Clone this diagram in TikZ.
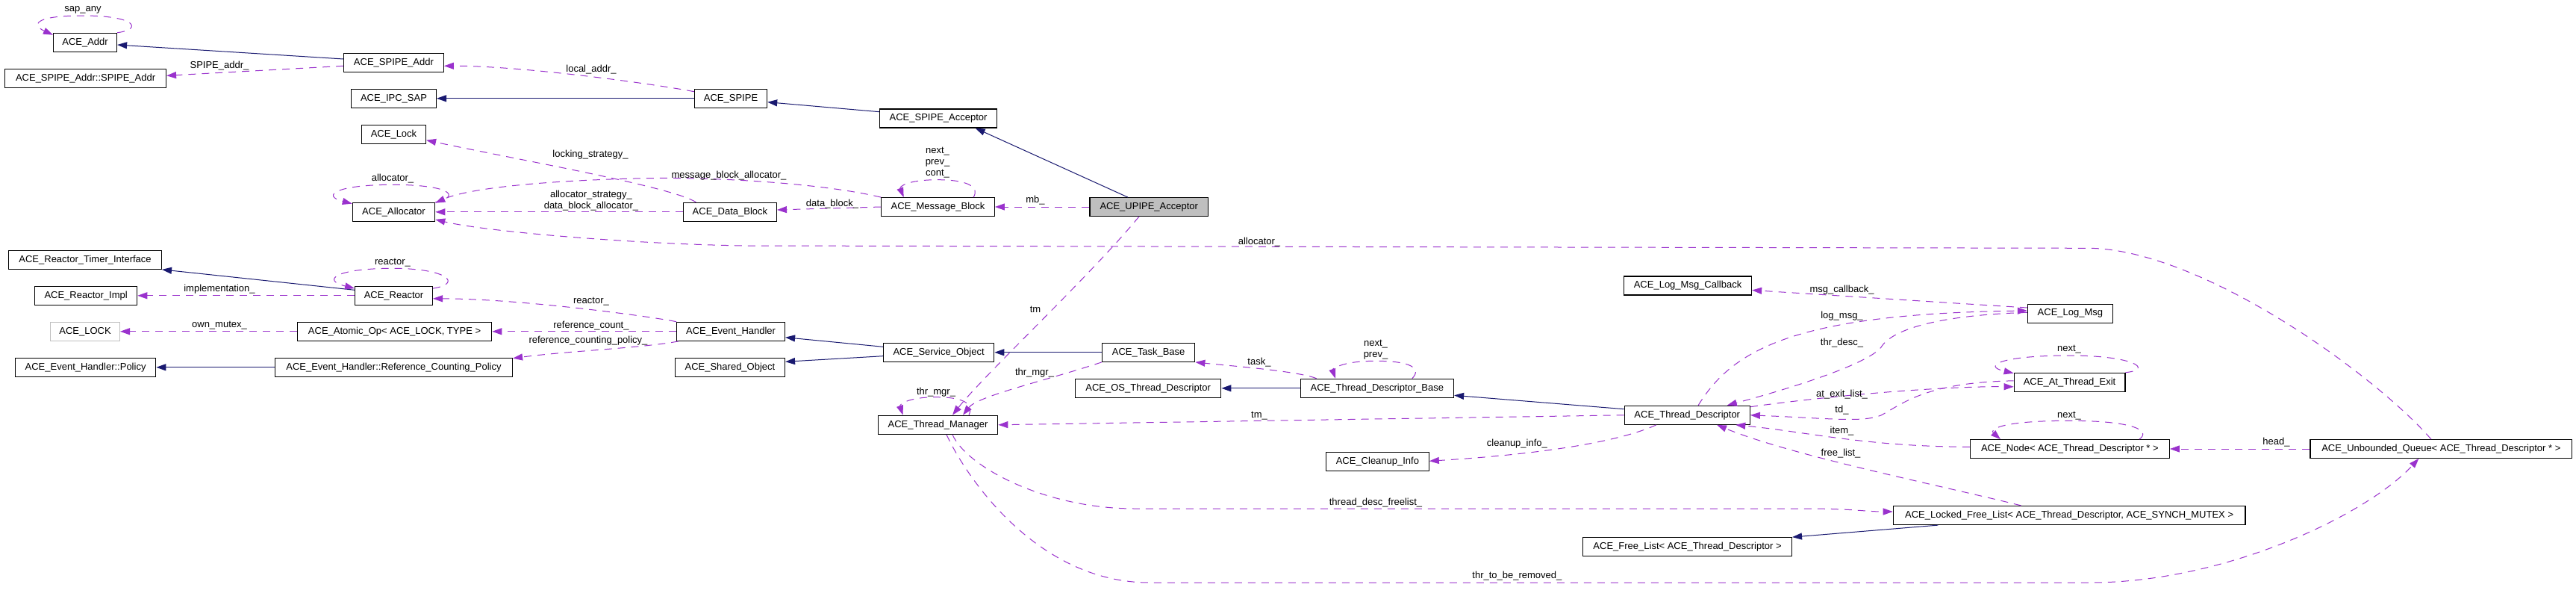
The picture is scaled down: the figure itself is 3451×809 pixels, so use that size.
\documentclass[tikz,border=0pt]{standalone}
\usepackage{fontspec}
\setmainfont{Liberation Sans}
\usetikzlibrary{arrows.meta,calc}
\definecolor{inhblue}{HTML}{191970}
\definecolor{usepurple}{HTML}{9A32CD}
\definecolor{boxgray}{HTML}{BFBFBF}
\tikzset{
 cls/.style={draw=black, line width=0.6pt, rectangle, inner sep=0pt, font=\fontsize{6.5}{7.5}\selectfont, fill=white},
 inh/.style={draw=inhblue, line width=0.5pt, -{Triangle[length=6.5pt,width=4.5pt]}},
 use/.style={draw=usepurple, line width=0.5pt, dash pattern=on 5pt off 4pt, -{Triangle[length=6.5pt,width=4.5pt]}},
 lbl/.style={font=\fontsize{6.5}{7.5}\selectfont, inner sep=0pt, align=center},
}
\newcommand\classbox[7][]{\node[cls,#1,minimum width={(#5-#3)*0.5pt},minimum height={(#6-#4)*0.5pt}] (#2) at ({(#3+#5)/2},{(#4+#6)/2}) {#7};}
\begin{document}
\begin{tikzpicture}[x=0.5pt,y=-0.5pt]
\fill[white] (0,0) rectangle (3451,809);
\useasboundingbox (0,0) rectangle (3451,809);
% nodes
\classbox{addr}{71.6}{44.3}{156.5}{69.3}{ACE\_Addr}
\classbox{spipeaddrin}{6.7}{92.7}{222.5}{117.3}{ACE\_SPIPE\_Addr::SPIPE\_Addr}
\classbox{spipeaddr}{460.6}{71.3}{594.3}{96.3}{ACE\_SPIPE\_Addr}
\classbox{ipcsap}{470.6}{119.3}{584.4}{144.3}{ACE\_IPC\_SAP}
\classbox{lock}{484.5}{167.3}{570.5}{192.3}{ACE\_Lock}
\classbox{alloc}{472.3}{271.3}{582.7}{296.3}{ACE\_Allocator}
\classbox{rti}{11.7}{335.3}{216.4}{360.3}{ACE\_Reactor\_Timer\_Interface}
\classbox{rimpl}{46.6}{383.3}{183.7}{408.3}{ACE\_Reactor\_Impl}
\classbox{reactor}{475.6}{383.3}{579.4}{408.3}{ACE\_Reactor}
\classbox[draw=boxgray]{LOCK}{67.7}{431.3}{160.4}{456.3}{ACE\_LOCK}
\classbox{atomic}{398.4}{431.3}{658.7}{456.3}{ACE\_Atomic\_Op< ACE\_LOCK, TYPE >}
\classbox{policy}{20.5}{479.3}{208.7}{504.3}{ACE\_Event\_Handler::Policy}
\classbox{rcp}{368.5}{479.3}{686.5}{504.3}{ACE\_Event\_Handler::Reference\_Counting\_Policy}
\classbox{spipe}{930.5}{119.3}{1027.6}{144.3}{ACE\_SPIPE}
\classbox{spipeacc}{1178.5}{146}{1335.6}{171}{ACE\_SPIPE\_Acceptor}
\classbox{datablock}{915.5}{271.3}{1040.4}{296.3}{ACE\_Data\_Block}
\classbox{msgblock}{1180.8}{264.7}{1332.3}{289.3}{ACE\_Message\_Block}
\classbox[fill=boxgray]{upipe}{1459.9}{264.7}{1618.6}{289.3}{ACE\_UPIPE\_Acceptor}
\classbox{evh}{906.6}{431.3}{1051.5}{456.3}{ACE\_Event\_Handler}
\classbox{sobj}{1183.5}{459.3}{1331.7}{484.3}{ACE\_Service\_Object}
\classbox{shobj}{904.4}{479.3}{1051.5}{504.3}{ACE\_Shared\_Object}
\classbox{task}{1476.5}{459.3}{1600.8}{484.3}{ACE\_Task\_Base}
\classbox{ostd}{1440.5}{507.3}{1635.8}{532.3}{ACE\_OS\_Thread\_Descriptor}
\classbox{tm}{1176.3}{556.3}{1336.7}{581.3}{ACE\_Thread\_Manager}
\classbox{lmc}{2175.6}{370}{2346.5}{395}{ACE\_Log\_Msg\_Callback}
\classbox{tdb}{1742.2}{507.3}{1947.5}{532.3}{ACE\_Thread\_Descriptor\_Base}
\classbox{td}{2176.2}{543.3}{2344.3}{568.3}{ACE\_Thread\_Descriptor}
\classbox{cleanup}{1776.6}{605.5}{1914.2}{630.5}{ACE\_Cleanup\_Info}
\classbox{freelist}{2120.7}{719.7}{2400.4}{744.3}{ACE\_Free\_List< ACE\_Thread\_Descriptor >}
\classbox{lfl}{2536.3}{677.5}{3007.9}{702.5}{ACE\_Locked\_Free\_List< ACE\_Thread\_Descriptor, ACE\_SYNCH\_MUTEX >}
\classbox{logmsg}{2716.5}{407.3}{2830.3}{432.3}{ACE\_Log\_Msg}
\classbox{ate}{2698.2}{499.3}{2846.9}{524.3}{ACE\_At\_Thread\_Exit}
\classbox{node}{2639.4}{588.7}{2906.3}{613.3}{ACE\_Node< ACE\_Thread\_Descriptor * >}
\classbox{uq}{3095}{588.7}{3445.7}{613.3}{ACE\_Unbounded\_Queue< ACE\_Thread\_Descriptor * >}
% inheritance
\draw[inh] ($(spipeaddr.west)+(0,-4.8)$) -- ($(addr.east)+(0,3.2)$);
\draw[inh] (spipe.west) -- (ipcsap.east);
\draw[inh] ($(spipeacc.west)+(0,-8.8)$) -- ($(spipe.east)+(0,4.9)$);
\draw[inh] ($(upipe.north)+(-28.3,0)$) -- ($(spipeacc.south)+(49.6,0)$);
\draw[inh] ($(reactor.west)+(0,-7.5)$) -- (rti.south east);
\draw[inh] (rcp.west) -- (policy.east);
\draw[inh] ($(sobj.west)+(0,-7.5)$) -- ($(evh.east)+(0,7.9)$);
\draw[inh] ($(sobj.west)+(0,4.9)$) -- ($(shobj.east)+(0,-7.5)$);
\draw[inh] (task.west) -- (sobj.east);
\draw[inh] (tdb.west) -- (ostd.east);
\draw[inh] ($(td.west)+(0,-8.1)$) -- ($(tdb.east)+(0,9.5)$);
\draw[inh] ($(lfl.south west)+(60.7,0)$) -- (freelist.north east);
% usage
\draw[use] (addr.north east) .. controls (190,40) and (185,21) .. (111,21) .. controls (40,21) and (45,35) .. ($(addr.north west)+(0,3)$);
\draw[use] ($(spipeaddr.west)+(0,4.5)$) -- ($(spipeaddrin.east)+(0,-3.7)$);
\draw[use] ($(spipe.north west)+(0,4)$) .. controls (880,113) and (700,88) .. ($(spipeaddr.east)+(0,4.5)$);
\draw[use] ($(datablock.north west)+(17.5,0)$) .. controls (900,250) and (700,215) .. ($(lock.east)+(0,7.9)$);
\draw[use] (datablock.west) -- (alloc.east);
\draw[use] (msgblock.north west) .. controls (1100,245) and (950,236) .. (850,239) .. controls (700,243) and (620,255) .. ($(alloc.north east)+(0,1)$);
\draw[use] (alloc.north east) .. controls (620,262) and (600,247.3) .. (526,247.3) .. controls (450,247.3) and (430,262) .. ($(alloc.north west)+(0,2)$);
\draw[use] (msgblock.west) -- ($(datablock.east)+(0,-2.8)$);
\draw[use] ($(msgblock.north)+(47.5,0)$) .. controls (1312,252) and (1300,240.7) .. (1256,240.7) .. controls (1215,240.7) and (1205,250) .. ($(msgblock.north)+(-45.9,0)$);
\draw[use] (upipe.west) -- (msgblock.east);
\draw[use] ($(upipe.south)+(-13.3,0)$) .. controls (1460,370) and (1320,500) .. ($(tm.north)+(19.5,0)$);
\draw[use] (task.south west) .. controls (1400,510) and (1310,530) .. ($(tm.north)+(33.5,0)$);
\draw[use] ($(tm.north)+(41.5,0)$) .. controls (1305,540) and (1290,531.7) .. (1254,531.7) .. controls (1215,531.7) and (1205,542) .. ($(tm.north)+(-46.9,0)$);
\draw[use] (td.west) -- (tm.east);
\draw[use] ($(tm.south)+(19.5,0)$) .. controls (1295,625) and (1400,681) .. (1520,681) -- (2420,681) .. controls (2480,681) and (2500,685) .. ($(lfl.west)+(0,-5)$);
\draw[use] ($(tm.south)+(11.5,0)$) .. controls (1295,640) and (1390,780) .. (1540,780) -- (2800,780) .. controls (2980,780) and (3170,690) .. ($(uq.south)+(-30,0)$);
\draw[use] ($(reactor.north east)+(0,3.4)$) .. controls (620,380) and (600,359.3) .. (526,359.3) .. controls (450,359.3) and (430,375) .. ($(reactor.north west)+(0,3.4)$);
\draw[use] (reactor.west) -- (rimpl.east);
\draw[use] (evh.north west) .. controls (880,425) and (700,400) .. ($(reactor.east)+(0,4)$);
\draw[use] (evh.west) -- (atomic.east);
\draw[use] ($(evh.south west)+(3,0)$) .. controls (860,466) and (760,470) .. ($(rcp.north east)+(0,1)$);
\draw[use] (atomic.west) -- (LOCK.east);
\draw[use] ($(tdb.north west)+(22,0)$) .. controls (1740,497) and (1650,490) .. (task.south east);
\draw[use] ($(tdb.north)+(47,0)$) .. controls (1905,493) and (1890,483.3) .. (1843,483.3) .. controls (1795,483.3) and (1785,495) .. ($(tdb.north)+(-55.9,0)$);
\draw[use] ($(logmsg.west)+(0,-7.8)$) .. controls (2650,408) and (2450,395) .. ($(lmc.east)+(0,6)$);
\draw[use] ($(td.north)+(14.8,0)$) .. controls (2320,470) and (2400,420) .. ($(logmsg.west)+(0,-3.8)$);
\draw[use] ($(logmsg.west)+(0,-1.5)$) .. controls (2600,422) and (2535,440) .. (2520,465) .. controls (2500,490) and (2380,525) .. ($(td.north)+(53.5,0)$);
\draw[use] ($(td.north east)+(0,2)$) .. controls (2450,530) and (2600,517) .. ($(ate.west)+(0,6)$);
\draw[use] ($(ate.west)+(0,-2)$) .. controls (2580,512) and (2550,540) .. (2520,556) .. controls (2495,566) and (2450,560) .. (td.east);
\draw[use] (ate.north east) .. controls (2885,495) and (2860,476) .. (2772,476) .. controls (2680,476) and (2655,490) .. ($(ate.north west)+(0,1)$);
\draw[use] ($(node.west)+(0,-2.7)$) .. controls (2500,598) and (2420,578) .. ($(td.south)+(65,0)$);
\draw[use] ($(lfl.north)+(-64.5,0)$) .. controls (2600,650) and (2400,610) .. ($(td.south)+(39.8,0)$);
\draw[use] ($(node.north)+(93,0)$) .. controls (2882,577) and (2860,563.3) .. (2772,563.3) .. controls (2680,563.3) and (2665,575) .. ($(node.north)+(-92.9,0)$);
\draw[use] (uq.west) -- (node.east);
\draw[use] ($(td.south west)+(43.2,0)$) .. controls (2150,600) and (2000,612) .. ($(cleanup.east)+(0,-0.7)$);
\draw[use] ($(uq.north)+(-13.4,0)$) .. controls (3180,500) and (2950,335) .. (2800,332.3) -- (1000,329) .. controls (850,327) and (650,310) .. ($(alloc.south east)+(0,-3)$);
% labels
\node[lbl] (l1) at (111,13.3) {sap\_any};
\node[lbl] (l2) at (294,88) {SPIPE\_addr\_};
\node[lbl] (l3) at (792,92.7) {local\_addr\_};
\node[lbl] (l4) at (791,206.7) {locking\_strategy\_};
\node[lbl] (l5) at (526,239.3) {allocator\_};
\node[lbl] (l6) at (792,268.3) {allocator\_strategy\_\\data\_block\_allocator\_};
\node[lbl] (l7) at (976.5,235) {message\_block\_allocator\_};
\node[lbl] (l8) at (1256,218) {next\_\\prev\_\\cont\_};
\node[lbl] (l9) at (1115,272.7) {data\_block\_};
\node[lbl] (l10) at (1387,268.3) {mb\_};
\node[lbl] (l11) at (526,351.7) {reactor\_};
\node[lbl] (l12) at (294,387.3) {implementation\_};
\node[lbl] (l13) at (792,404) {reactor\_};
\node[lbl] (l14) at (294,435.7) {own\_mutex\_};
\node[lbl] (l15) at (792,435.7) {reference\_count\_};
\node[lbl] (l16) at (788,455.7) {reference\_counting\_policy\_};
\node[lbl] (l17) at (1687,324.3) {allocator\_};
\node[lbl] (l18) at (1387,414.3) {tm};
\node[lbl] (l19) at (1386,499.3) {thr\_mgr\_};
\node[lbl] (l20) at (1254,524.7) {thr\_mgr\_};
\node[lbl] (l21) at (1687,485) {task\_};
\node[lbl] (l22) at (1687,556.7) {tm\_};
\node[lbl] (l23) at (1843,468.5) {next\_\\prev\_};
\node[lbl] (l24) at (2467.5,387.7) {msg\_callback\_};
\node[lbl] (l25) at (2467.5,423.3) {log\_msg\_};
\node[lbl] (l26) at (2467.5,458.7) {thr\_desc\_};
\node[lbl] (l27) at (2467.5,527.7) {at\_exit\_list\_};
\node[lbl] (l28) at (2467.5,549) {td\_};
\node[lbl] (l29) at (2467.5,576.7) {item\_};
\node[lbl] (l30) at (2466,606.7) {free\_list\_};
\node[lbl] (l31) at (2772,467.7) {next\_};
\node[lbl] (l32) at (2772,556.7) {next\_};
\node[lbl] (l33) at (3049.5,592.3) {head\_};
\node[lbl] (l34) at (2032.4,594.3) {cleanup\_info\_};
\node[lbl] (l35) at (1843,672.7) {thread\_desc\_freelist\_};
\node[lbl] (l36) at (2032.4,771.3) {thr\_to\_be\_removed\_};
\end{tikzpicture}
\end{document}
